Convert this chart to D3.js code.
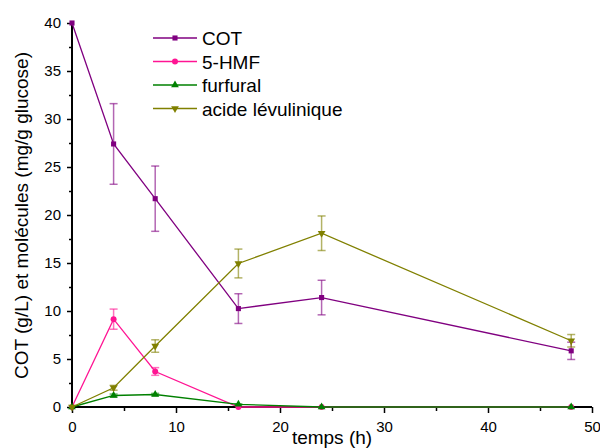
<!DOCTYPE html>
<html><head><meta charset="utf-8">
<script src="https://cdn.jsdelivr.net/npm/d3@7"></script>
<style>body{margin:0;background:#fff}svg{display:block}text{font-family:"Liberation Sans",Arial,sans-serif}</style>
</head><body>
<svg id="c" width="600" height="448"></svg>
<script>
const times = [0, 4, 8, 16, 24, 48];
const cot = [40, 27.4, 21.7, 10.25, 11.4, 5.85];
const cotErr = [0, 4.2, 3.4, 1.55, 1.8, 0.9];
const hmf = [0, 9.15, 3.7, 0, 0, 0];
const hmfErr = [0, 1.05, 0.4, 0, 0, 0];
const furfural = [0, 1.2, 1.3, 0.28, 0, 0];
const furfuralErr = [0, 0.15, 0.12, 0.05, 0, 0];
const levulinique = [0, 2.0, 6.35, 14.95, 18.1, 6.9];
const levuliniqueErr = [0, 0.25, 0.65, 1.5, 1.8, 0.65];
const seriesNames = ["COT", "5-HMF", "furfural", "acide lévulinique"];
const xTicks = [0, 10, 20, 30, 40, 50];
const yTicks = [0, 5, 10, 15, 20, 25, 30, 35, 40];

const colors = ["#800080", "#ff1493", "#008000", "#808000"];
const symbols = [d3.symbolSquare, d3.symbolCircle, d3.symbolTriangle, d3.symbolTriangle];
const symSizes = [26, 28, 26, 26];
const rots = [0, 0, 0, 180];

const svg = d3.select("#c");
const x = d3.scaleLinear().domain([0, 50]).range([72, 592]);
const y = d3.scaleLinear().domain([0, 40]).range([407, 23]);

const series = [
  {name: seriesNames[0], v: cot, e: cotErr},
  {name: seriesNames[1], v: hmf, e: hmfErr},
  {name: seriesNames[2], v: furfural, e: furfuralErr},
  {name: seriesNames[3], v: levulinique, e: levuliniqueErr}
];

const xAxis = d3.axisBottom(x).tickValues(xTicks).tickSize(6).tickPadding(8).tickFormat(d3.format("d"));
const xMinor = d3.axisBottom(x).tickValues([5,15,25,35,45]).tickSize(4).tickFormat("");
const yAxis = d3.axisLeft(y).tickValues(yTicks).tickSize(5).tickPadding(6).tickFormat(d3.format("d"));
const yMinor = d3.axisLeft(y).tickValues(d3.range(2.5, 40, 5)).tickSize(3).tickFormat("");

function styleAxis(g){
  g.select(".domain").remove();
  g.selectAll(".tick line").attr("stroke","#000").attr("stroke-width",1.5);
  g.selectAll(".tick text").attr("fill","#000").style("font-size","15px").style("font-family","'Liberation Sans', Arial, sans-serif");
}
svg.append("g").attr("transform","translate(0,407)").call(xMinor).call(styleAxis);
svg.append("g").attr("transform","translate(0,407)").call(xAxis).call(styleAxis);
svg.append("g").attr("transform","translate(72,0)").call(yMinor).call(styleAxis);
svg.append("g").attr("transform","translate(72,0)").call(yAxis).call(styleAxis);

svg.append("line").attr("x1",72).attr("x2",72).attr("y1",23).attr("y2",408).attr("stroke","#000").attr("stroke-width",2);
svg.append("line").attr("x1",71).attr("x2",592).attr("y1",407).attr("y2",407).attr("stroke","#000").attr("stroke-width",2);

const line = d3.line().x((d,i)=>x(times[i])).y(d=>y(d));
series.forEach((s, k) => {
  const g = svg.append("g");
  g.append("path").datum(s.v).attr("d", line).attr("fill","none").attr("stroke",colors[k]).attr("stroke-width",1.3);
  s.v.forEach((v,i)=>{
    const e = s.e[i]; if (!e) return;
    const cx = x(times[i]);
    const eg = g.append("g").attr("stroke",colors[k]).attr("stroke-opacity",0.6).attr("stroke-width",1.5);
    eg.append("line").attr("x1",cx).attr("x2",cx).attr("y1",y(v-e)).attr("y2",y(v+e));
    eg.append("line").attr("x1",cx-4).attr("x2",cx+4).attr("y1",y(v-e)).attr("y2",y(v-e));
    eg.append("line").attr("x1",cx-4).attr("x2",cx+4).attr("y1",y(v+e)).attr("y2",y(v+e));
  });
  g.selectAll("path.m").data(s.v).join("path").attr("class","m")
    .attr("d", d3.symbol().type(symbols[k]).size(symSizes[k]))
    .attr("transform",(d,i)=>`translate(${x(times[i])},${y(d)}) rotate(${rots[k]})`)
    .attr("fill",colors[k]);
});

const lg = svg.append("g");
seriesNames.forEach((n,k)=>{
  const yy = 38 + k*23.5;
  lg.append("line").attr("x1",153).attr("x2",197).attr("y1",yy).attr("y2",yy).attr("stroke",colors[k]).attr("stroke-width",1.3);
  lg.append("path").attr("d", d3.symbol().type(symbols[k]).size(symSizes[k])()).attr("transform",`translate(175,${yy}) rotate(${rots[k]})`).attr("fill",colors[k]);
  lg.append("text").attr("x",202).attr("y",yy+7).text(n).style("font-size","19px").attr("fill","#000");
});

svg.append("text").attr("x",332).attr("y",444).attr("text-anchor","middle").style("font-size","19px").text("temps (h)");
svg.append("text").attr("transform","translate(28,215.5) rotate(-90)").attr("text-anchor","middle").style("font-size","19px").text("COT (g/L) et molécules (mg/g glucose)");
</script>
</body></html>
